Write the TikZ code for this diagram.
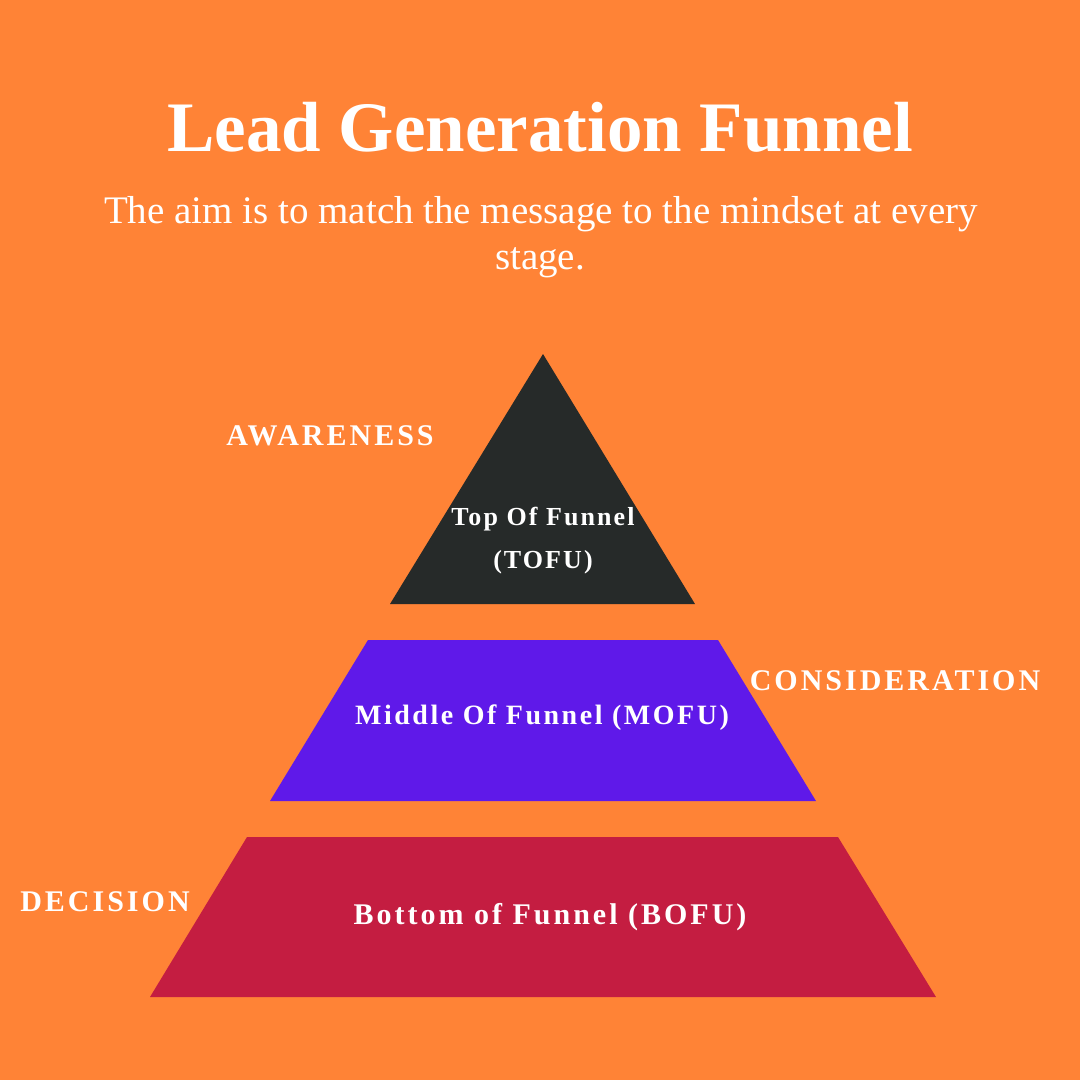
\documentclass[tikz,border=0pt]{standalone}
\usepackage{fontspec}
\setmainfont{Liberation Serif}
\definecolor{bgorange}{HTML}{FF8336}
\definecolor{tofucol}{HTML}{262A29}
\definecolor{mofucol}{HTML}{5F19E9}
\definecolor{bofucol}{HTML}{C41D41}
\tikzset{
  stagelabel/.style={text=white, anchor=base, inner sep=0pt, font=\fontsize{30}{34}\selectfont\bfseries\addfontfeature{LetterSpace=10}},
  levellabel/.style={text=white, anchor=base, inner sep=0pt, align=center},
}
\begin{document}
\begin{tikzpicture}[x=1pt,y=-1pt]
\fill[bgorange] (0,0) rectangle (1080,1080);
\useasboundingbox (0,0) rectangle (1080,1080);
% title
\node[text=white, anchor=base, inner sep=0pt, font=\fontsize{71}{80}\selectfont\bfseries] (title) at (540,151) {Lead Generation Funnel};
\node[text=white, anchor=base, inner sep=0pt, font=\fontsize{39}{46}\selectfont] (sub1) at (541,223) {The aim is to match the message to the mindset at every};
\node[text=white, anchor=base, inner sep=0pt, font=\fontsize{39}{46}\selectfont] (sub2) at (540,269) {stage.};
% shapes
\fill[tofucol] (543,354) coordinate (tA) -- (695,604) coordinate (tR) -- (390,604) coordinate (tL) -- cycle;
\fill[mofucol] (368,640) coordinate (mA) -- (718,640) coordinate (mB) -- (816,801) coordinate (mC) -- (270,801) coordinate (mD) -- cycle;
\fill[bofucol] (247,837) coordinate (bA) -- (838,837) coordinate (bB) -- (936,997) coordinate (bC) -- (150,997) coordinate (bD) -- cycle;
% level labels
\node[levellabel, font=\fontsize{26}{30}\selectfont\bfseries\addfontfeature{LetterSpace=8}] (tofu1) at (543,525) {Top Of Funnel};
\node[levellabel, font=\fontsize{26}{30}\selectfont\bfseries\addfontfeature{LetterSpace=8}] (tofu2) at (543,568) {(TOFU)};
\node[levellabel, font=\fontsize{28}{30}\selectfont\bfseries\addfontfeature{LetterSpace=9}] (mofu) at (542,724) {Middle Of Funnel (MOFU)};
\node[levellabel, font=\fontsize{30}{30}\selectfont\bfseries\addfontfeature{LetterSpace=10}] (bofu) at (550,924) {Bottom of Funnel (BOFU)};
% stage labels
\node[stagelabel] (aware) at (330,445) {AWARENESS};
\node[stagelabel] (consid) at (895,690) {CONSIDERATION};
\node[stagelabel] (decis) at (105,911) {DECISION};
\end{tikzpicture}
\end{document}
